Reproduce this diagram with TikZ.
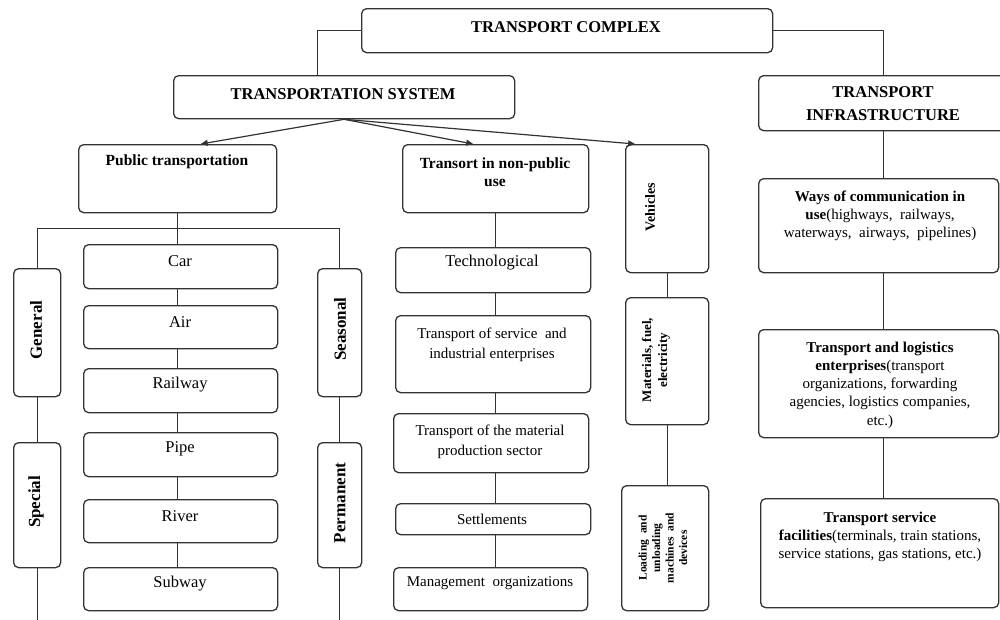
\documentclass[tikz,border=0pt]{standalone}
\usepackage{fontspec}
\setmainfont{Liberation Serif}
\usetikzlibrary{arrows.meta,calc}
\definecolor{linec}{HTML}{333333}
\begin{document}
\begin{tikzpicture}[x=1pt,y=-1pt,
  box/.style={draw=linec, line width=1.3pt, rounded corners=5pt, inner sep=0pt, anchor=north west, fill=white},
  ln/.style={draw=linec, line width=1.2pt},
  arr/.style={ln, -{Triangle[length=7pt,width=6pt]}},
  hd/.style={font=\fontsize{16.5}{20}\selectfont\bfseries, align=center, inner sep=0pt},
  sub/.style={font=\fontsize{15.5}{18}\selectfont\bfseries, align=center, inner sep=0pt},
  mode/.style={font=\fontsize{16.5}{20}\selectfont, inner sep=0pt},
  small/.style={font=\fontsize{15}{20}\selectfont, align=center, inner sep=0pt},
  vert/.style={font=\fontsize{17}{20}\selectfont\bfseries, rotate=90, inner sep=0pt},
  infra/.style={font=\fontsize{15}{18.3}\selectfont, align=center, inner sep=0pt}]
\useasboundingbox (0,0) rectangle (1000,619);
\clip (0,0) rectangle (1000,619);
\fill[white] (0,0) rectangle (1000,619);

% top levels
\node[box, minimum width=411pt, minimum height=44pt] (complex) at (361,8) {};
\node[hd] (complex-t) at (566,27) {TRANSPORT COMPLEX};
\node[box, minimum width=341pt, minimum height=43pt] (tsys) at (173,75) {};
\node[hd] (tsys-t) at (343,94) {TRANSPORTATION SYSTEM};
\node[box, minimum width=250pt, minimum height=55pt] (tinfra) at (758,75) {};
\node[hd] (tinfra-t) at (883,104) {TRANSPORT\\[3pt]INFRASTRUCTURE};

% second level
\node[box, minimum width=198pt, minimum height=68pt] (pub) at (78,144) {};
\node[sub] (pub-t) at (177,162) {Public transportation};
\node[box, minimum width=186pt, minimum height=68pt] (npub) at (402,144) {};
\node[sub] (npub-t) at (495,172) {Transort in non-public\\use};
\node[box, minimum width=83pt, minimum height=128pt] (veh) at (625,144) {};
\node[vert, font=\fontsize{14}{17}\selectfont\bfseries] (veh-t) at (650,207) {Vehicles};

% public transportation: regularity and purpose
\node[box, minimum width=47pt, minimum height=128pt] (general) at (13,268) {};
\node[vert] (general-t) at (36,330) {General};
\node[box, minimum width=47pt, minimum height=125pt] (special) at (13,442) {};
\node[vert] (special-t) at (36,502) {Special};
\node[box, minimum width=44pt, minimum height=128pt] (seasonal) at (317,268) {};
\node[vert] (seasonal-t) at (340,329) {Seasonal};
\node[box, minimum width=44pt, minimum height=125pt] (permanent) at (317,442) {};
\node[vert] (permanent-t) at (340,503) {Permanent};

% modes of public transportation
\node[box, minimum width=194pt, minimum height=44pt] (car) at (83,244) {};
\node[mode] (car-t) at (180,261) {Car};
\node[box, minimum width=194pt, minimum height=43pt] (air) at (83,305) {};
\node[mode] (air-t) at (180,322) {Air};
\node[box, minimum width=194pt, minimum height=44pt] (rail) at (83,368) {};
\node[mode] (rail-t) at (180,385) {Railway};
\node[box, minimum width=194pt, minimum height=44pt] (pipe) at (83,432) {};
\node[mode] (pipe-t) at (180,449) {Pipe};
\node[box, minimum width=194pt, minimum height=43pt] (river) at (83,499) {};
\node[mode] (river-t) at (180,516) {River};
\node[box, minimum width=194pt, minimum height=43pt] (subway) at (83,567) {};
\node[mode] (subway-t) at (180,584) {Subway};

% non-public transport
\node[box, minimum width=195pt, minimum height=45pt] (tech) at (395,247) {};
\node[mode] (tech-t) at (492,263) {Technological};
\node[box, minimum width=195pt, minimum height=77pt] (serv) at (395,315) {};
\node[small] (serv-t) at (492,345) {Transport of service\ \ and\\industrial enterprises};
\node[box, minimum width=195pt, minimum height=59pt] (matp) at (393,413) {};
\node[small] (matp-t) at (490,442) {Transport of the material\\production sector};
\node[box, minimum width=195pt, minimum height=31pt] (settl) at (395,503) {};
\node[small] (settl-t) at (492,519) {Settlements};
\node[box, minimum width=194pt, minimum height=43pt] (mgmt) at (393,567) {};
\node[small] (mgmt-t) at (490,583) {Management\ \ organizations};

% resources
\node[box, minimum width=83pt, minimum height=127pt] (mat) at (625,297) {};
\node[vert, align=center, font=\fontsize{13}{16}\selectfont\bfseries] (mat-t) at (656,360) {Materials, fuel,\\electricity};
\node[box, minimum width=87pt, minimum height=125pt] (load) at (621,485) {};
\node[vert, align=center, font=\fontsize{11.5}{13.5}\selectfont\bfseries] (load-t) at (663,548) {Loading\ \ and\\unloading\\machines\ \ and\\devices};

% infrastructure
\node[box, minimum width=240pt, minimum height=94pt] (ways) at (758,178) {};
\node[infra] (ways-t) at (880,216) {\textbf{Ways of communication in}\\\textbf{use}(highways,\ \ railways,\\waterways,\ \ airways,\ \ pipelines)};
\node[box, minimum width=240pt, minimum height=108pt] (tle) at (758,329) {};
\node[infra] (tle-t) at (880,385) {\textbf{Transport and logistics}\\\textbf{enterprises}(transport\\organizations, forwarding\\agencies, logistics companies,\\etc.)};
\node[box, minimum width=238pt, minimum height=109pt] (tsf) at (760,498) {};
\node[infra] (tsf-t) at (880,537) {\textbf{Transport service}\\\textbf{facilities}(terminals, train stations,\\service stations, gas stations, etc.)};

% connectors at the top
\draw[ln] (complex.west) -| ($(tsys.north west)!0.422!(tsys.north east)$);
\draw[ln] (complex.east) -| (tinfra.north);
\draw[arr] (tsys.south) -- ($(pub.north west)!0.616!(pub.north east)$);
\draw[arr] (tsys.south) -- ($(npub.north west)!0.38!(npub.north east)$);
\draw[arr] (tsys.south) -- ($(veh.north west)!0.12!(veh.north east)$);

% public transportation branches
\coordinate (bus) at ($(pub.south)+(0,15)$);
\coordinate (bottom) at (0,625);
\draw[ln] (pub.south) -- (bus);
\draw[ln] (general.north) |- (bus) -| (seasonal.north);
\draw[ln] (bus) -- (bus |- car.north);
\foreach \a/\b in {car/air, air/rail, rail/pipe, pipe/river, river/subway}
  \draw[ln] (bus |- \a.south) -- (bus |- \b.north);
\draw[ln] (general.south) -- (special.north);
\draw[ln] (special.south) -- (special.south |- bottom);
\draw[ln] (seasonal.south) -- (permanent.north);
\draw[ln] (permanent.south) -- (permanent.south |- bottom);

% non-public transport chain
\draw[ln] (npub.south) -- (npub.south |- tech.north);
\foreach \a/\b in {tech/serv, serv/matp, matp/settl, settl/mgmt}
  \draw[ln] (npub.south |- \a.south) -- (npub.south |- \b.north);

% resources chain
\draw[ln] (veh.south) -- (mat.north);
\draw[ln] (mat.south) -- (mat.south |- load.north);

% infrastructure chain
\draw[ln] (tinfra.south) -- (tinfra.south |- ways.north);
\draw[ln] (tinfra.south |- ways.south) -- (tinfra.south |- tle.north);
\draw[ln] (tinfra.south |- tle.south) -- (tinfra.south |- tsf.north);
\end{tikzpicture}
\end{document}
